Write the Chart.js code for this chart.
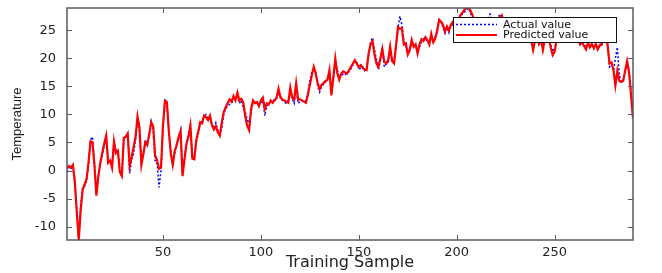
<!DOCTYPE html>
<html>
<head>
<meta charset="utf-8">
<script src="https://cdn.jsdelivr.net/npm/chart.js@4/dist/chart.umd.min.js"></script>
<style>
  html, body { margin: 0; padding: 0; background: #fff; }
  canvas { display: block; }
</style>
</head>
<body>
<canvas id="tempChart" width="662" height="273"></canvas>
<script>
// values, one per training sample (1..290)
const predicted = [
  0.5, 0.8, 0.5, 1.0, -2.0, -7.5, -12.4, -7.0, -3.4, -2.5,
  -1.5, 1.5, 5.2, 5.0, 1.0, -4.5, -1.0, 1.4, 3.1, 4.8,
  6.2, 1.4, 1.8, 0.5, 5.2, 3.1, 3.5, -0.3, -1.0, 5.8,
  6.0, 6.6, 0.8, 2.4, 4.2, 6.0, 9.6, 7.5, 1.0, 3.0,
  5.0, 4.6, 6.5, 8.6, 7.9, 2.7, 1.8, 0.3, 0.5, 8.0,
  12.4, 12.2, 7.0, 3.0, 1.0, 3.5, 4.5, 6.0, 7.0, -1.0,
  2.0, 4.8, 6.0, 8.0, 2.1, 2.0, 5.4, 6.9, 8.6, 8.4,
  9.8, 9.5, 9.0, 9.8, 8.1, 7.3, 7.9, 6.8, 6.2, 8.5,
  10.4, 11.3, 12.0, 12.7, 12.3, 13.3, 12.5, 13.9, 12.5, 12.8,
  12.1, 9.7, 8.0, 7.2, 11.0, 12.5, 12.0, 12.2, 11.5, 12.5,
  13.0, 11.0, 12.0, 11.8, 12.5, 12.1, 12.5, 13.0, 14.6, 13.0,
  12.7, 12.5, 12.3, 12.1, 14.8, 13.0, 12.7, 15.6, 12.7, 12.7,
  12.5, 12.3, 12.1, 13.5, 15.3, 17.0, 18.5, 17.3, 15.6, 14.5,
  15.3, 15.6, 16.0, 16.2, 17.9, 13.4, 16.7, 20.0, 17.4, 16.2,
  17.3, 17.7, 17.5, 17.3, 17.9, 18.5, 19.1, 19.7, 19.0, 18.5,
  18.8, 18.3, 18.0, 17.9, 20.9, 22.5, 23.1, 20.8, 19.1, 18.5,
  20.0, 21.7, 19.4, 19.1, 19.7, 22.1, 19.5, 19.1, 22.3, 25.6,
  25.3, 25.4, 22.5, 22.7, 20.7, 21.5, 23.3, 22.1, 22.5, 20.9,
  22.5, 23.4, 23.1, 23.8, 23.3, 22.5, 24.4, 22.9, 23.5, 25.0,
  26.9, 26.5, 26.0, 24.8, 25.7, 25.0, 26.0, 26.5, 25.5, 26.0,
  27.0, 27.8, 28.2, 28.7, 29.0, 29.6, 28.5, 27.8, 26.5, 25.5,
  24.8, 25.6, 26.2, 25.0, 25.8, 26.8, 27.2, 26.5, 25.4, 26.0,
  26.8, 27.3, 27.7, 26.4, 25.2, 24.5, 25.3, 24.8, 24.0, 24.6,
  25.2, 24.3, 23.8, 24.5, 25.0, 24.2, 23.6, 23.4, 21.5, 23.2,
  24.0, 22.6, 23.5, 21.5, 23.4, 24.2, 23.6, 22.0, 20.6, 21.2,
  23.3, 24.0, 24.6, 25.2, 24.5, 24.0, 24.8, 25.3, 24.6, 24.0,
  23.8, 23.5, 22.5, 23.0, 22.2, 21.6, 22.8, 22.0, 22.6, 21.8,
  22.6, 21.6, 22.3, 22.4, 23.8, 23.6, 22.5, 19.1, 19.3, 18.0,
  15.2, 17.8, 16.0, 15.8, 16.0, 17.8, 19.5, 17.5, 13.5, 9.3
];
const actual = [
  -0.3, 0.6, 0.3, 0.8, -2.5, -7.0, -12.4, -6.0, -3.0, -2.8,
  -1.8, 1.0, 5.5, 6.0, 1.5, -4.0, -1.2, 1.2, 2.6, 4.5,
  6.0, 2.0, 1.5, 1.0, 5.5, 3.3, 3.8, -0.6, -0.8, 5.5,
  6.2, 6.3, -0.5, 2.0, 3.0, 5.5, 9.2, 8.0, 1.5, 2.8,
  5.5, 4.5, 6.3, 8.8, 7.5, 1.5, 1.2, -3.0, 0.0, 7.5,
  12.6, 12.4, 6.8, 3.3, 1.2, 3.0, 4.8, 5.8, 7.2, -0.5,
  2.3, 4.5, 6.3, 8.2, 2.5, 2.2, 5.0, 6.5, 8.3, 8.8,
  9.6, 10.0, 9.3, 9.4, 8.3, 7.5, 8.5, 7.2, 6.5, 7.5,
  10.0, 11.0, 11.5, 11.8, 12.0, 12.8, 13.0, 13.2, 12.0, 12.5,
  11.3, 10.5, 9.0, 8.5, 10.5, 12.0, 12.5, 11.8, 11.8, 12.0,
  12.5, 9.8, 11.5, 12.0, 12.2, 12.3, 12.8, 12.8, 14.0, 13.3,
  12.5, 12.2, 12.0, 12.5, 14.2, 12.8, 12.0, 14.8, 12.0, 12.3,
  12.4, 12.2, 12.5, 14.0, 16.0, 17.5, 18.0, 17.6, 15.0, 14.0,
  15.0, 15.4, 15.8, 16.5, 17.5, 14.5, 16.0, 19.0, 18.0, 16.5,
  16.8, 17.2, 17.0, 17.5, 17.6, 18.2, 18.8, 19.5, 19.3, 18.0,
  18.3, 18.5, 17.8, 18.2, 20.5, 23.0, 23.7, 21.5, 19.8, 18.0,
  19.5, 22.0, 18.5, 19.0, 19.3, 21.5, 19.8, 19.5, 22.0, 25.5,
  27.5, 26.0, 23.0, 22.3, 21.0, 21.2, 22.8, 22.5, 22.3, 21.5,
  22.0, 23.0, 23.5, 23.5, 23.0, 22.8, 24.0, 23.2, 23.8, 24.7,
  26.5, 26.8, 25.5, 24.5, 25.5, 24.6, 25.8, 26.0, 25.8, 26.3,
  26.8, 27.5, 28.0, 28.3, 28.6, 29.0, 28.0, 27.3, 26.2, 25.8,
  25.0, 25.3, 26.0, 25.4, 26.2, 27.2, 27.9, 27.0, 25.8, 26.4,
  27.2, 27.9, 27.4, 26.0, 25.5, 24.8, 25.0, 24.6, 24.3, 24.9,
  25.0, 24.5, 24.0, 24.3, 24.8, 24.4, 23.8, 23.6, 22.0, 23.0,
  23.8, 22.8, 23.2, 22.0, 23.2, 24.0, 23.8, 22.4, 21.2, 21.8,
  23.0, 23.8, 24.4, 25.0, 24.7, 24.2, 24.6, 25.0, 24.8, 24.2,
  24.0, 23.3, 22.8, 22.8, 22.5, 22.0, 22.5, 22.3, 22.4, 22.2,
  22.3, 22.0, 22.5, 22.6, 23.5, 23.8, 22.8, 18.5, 19.0, 17.8,
  20.0, 22.0, 17.0, 15.8, 16.2, 17.6, 19.3, 17.8, 13.8, 9.3
];
const seriesNames = ["Actual value", "Predicted value"];
const xTicks = [50, 100, 150, 200, 250];
const yTicks = [-10, -5, 0, 5, 10, 15, 20, 25];
const xRange = [1, 290];
const yRange = [-12.4, 29];

const toPoints = arr => arr.map((v, i) => ({ x: i + 1, y: v }));

// MATLAB-style box with inward ticks, plus the boxed legend in the top right
const frame = {
  id: "frame",
  afterDatasetsDraw(chart) {
    const { ctx, chartArea: a, scales } = chart;
    ctx.save();
    ctx.strokeStyle = "#5a5a5a";
    ctx.lineWidth = 1.5;
    ctx.strokeRect(a.left, a.top, a.right - a.left, a.bottom - a.top);
    ctx.lineWidth = 1;
    ctx.beginPath();
    xTicks.forEach(t => {
      const px = Math.round(scales.x.getPixelForValue(t)) + 0.5;
      ctx.moveTo(px, a.bottom); ctx.lineTo(px, a.bottom - 5);
      ctx.moveTo(px, a.top); ctx.lineTo(px, a.top + 5);
    });
    yTicks.forEach(t => {
      const py = Math.round(scales.y.getPixelForValue(t)) + 0.5;
      ctx.moveTo(a.left, py); ctx.lineTo(a.left + 5, py);
      ctx.moveTo(a.right, py); ctx.lineTo(a.right - 5, py);
    });
    ctx.stroke();

    // legend
    const bx = a.right - 180, by = a.top + 9, bw = 163, bh = 25;
    ctx.fillStyle = "#fff";
    ctx.fillRect(bx, by, bw, bh);
    ctx.strokeStyle = "#111";
    ctx.lineWidth = 1;
    ctx.strokeRect(bx + 0.5, by + 0.5, bw, bh);
    ctx.font = "11px 'DejaVu Sans'";
    ctx.textBaseline = "middle";
    chart.data.datasets.forEach((ds, i) => {
      const ly = by + 7.5 + i * 10.5;
      ctx.strokeStyle = ds.borderColor;
      ctx.lineWidth = ds.borderWidth;
      ctx.setLineDash(ds.borderDash || []);
      ctx.beginPath();
      ctx.moveTo(bx + 3, ly); ctx.lineTo(bx + 44, ly);
      ctx.stroke();
      ctx.setLineDash([]);
      ctx.fillStyle = "#111";
      ctx.fillText(ds.label, bx + 50, ly + 0.5);
    });
    ctx.restore();
  }
};

new Chart("tempChart", {
  type: "line",
  data: {
    datasets: [
      {
        label: seriesNames[0],
        data: toPoints(actual),
        borderColor: "#0000ff",
        borderWidth: 1.5,
        borderDash: [2, 2],
        pointRadius: 0,
        order: 2
      },
      {
        label: seriesNames[1],
        data: toPoints(predicted),
        borderColor: "#ff0000",
        borderWidth: 2.2,
        pointRadius: 0,
        order: 1
      }
    ]
  },
  options: {
    responsive: false,
    animation: false,
    devicePixelRatio: 1,
    layout: { padding: { left: 0, right: 29, top: 8, bottom: 0 } },
    plugins: { legend: { display: false }, tooltip: { enabled: false } },
    scales: {
      x: {
        type: "linear",
        min: xRange[0],
        max: xRange[1],
        grid: { display: false, drawTicks: false },
        border: { display: false },
        afterBuildTicks: s => { s.ticks = xTicks.map(v => ({ value: v })); },
        afterFit: s => { s.height = 33; s.paddingLeft = 0; s.paddingRight = 0; },
        ticks: {
          padding: 5,
          color: "#222",
          font: { family: "'DejaVu Sans'", size: 13 }
        },
        title: {
          display: true,
          text: "Training Sample",
          color: "#222",
          font: { family: "'DejaVu Sans'", size: 16 },
          padding: { top: 0, bottom: 1 }
        }
      },
      y: {
        min: yRange[0],
        max: yRange[1],
        grid: { display: false, drawTicks: false },
        border: { display: false },
        afterBuildTicks: s => { s.ticks = yTicks.map(v => ({ value: v })); },
        afterFit: s => { s.width = 67; s.paddingTop = 0; s.paddingBottom = 0; },
        ticks: {
          padding: 11,
          color: "#222",
          font: { family: "'DejaVu Sans'", size: 13 }
        },
        title: {
          display: true,
          text: "Temperature",
          color: "#222",
          font: { family: "'Liberation Sans'", size: 13 },
          padding: { top: 10, bottom: 0 }
        }
      }
    }
  },
  plugins: [frame]
});
</script>
</body>
</html>
